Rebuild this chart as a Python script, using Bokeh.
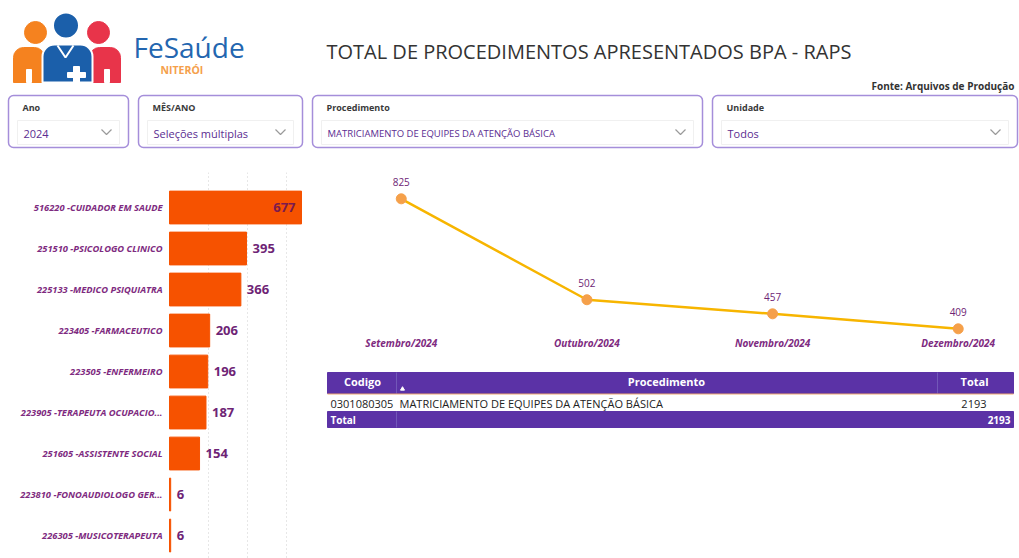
from bokeh.plotting import figure
from bokeh.layouts import column, row
from bokeh.models import Range1d, FixedTicker, Grid, ColumnDataSource
from bokeh.core.properties import value
from bokeh.embed import file_html
from bokeh.resources import INLINE

# ---------------- data ----------------
occupations = [
    "516220 -CUIDADOR EM SAUDE",
    "251510 -PSICOLOGO CLINICO",
    "225133 -MEDICO PSIQUIATRA",
    "223405 -FARMACEUTICO",
    "223505 -ENFERMEIRO",
    "223905 -TERAPEUTA OCUPACIO...",
    "251605 -ASSISTENTE SOCIAL",
    "223810 -FONOAUDIOLOGO GER...",
    "226305 -MUSICOTERAPEUTA",
]
occ_values = [677, 395, 366, 206, 196, 187, 154, 6, 6]

months = ["Setembro/2024", "Outubro/2024", "Novembro/2024", "Dezembro/2024"]
month_values = [825, 502, 457, 409]

table_codes = ["0301080305"]
table_procs = ["MATRICIAMENTO DE EQUIPES DA ATENÇÃO BÁSICA"]
table_totals = [2193]

filter_titles = ["Ano", "MÊS/ANO", "Procedimento", "Unidade"]
filter_values = ["2024", "Seleções múltiplas",
                 "MATRICIAMENTO DE EQUIPES DA ATENÇÃO BÁSICA", "Todos"]

title_text = "TOTAL DE PROCEDIMENTOS APRESENTADOS BPA - RAPS"
source_text = "Fonte:  Arquivos de Produção"

# ---------------- styles ----------------
FONT = value("Open Sans")
BAR_COLOR = "#F65200"
LABEL_PURPLE = "#7E2A80"
VALUE_PURPLE = "#6E2475"
INSIDE_LABEL = "#7A1A4E"
LINE_COLOR = "#F7B500"
MARKER_COLOR = "#F5A04A"
TABLE_PURPLE = "#5B32A6"
BOX_BORDER = "#A58EDA"
FILTER_TXT = "#5B2D91"


def blank(width, height, xr, yr, **kw):
    opts = dict(width=width, height=height, x_range=xr, y_range=yr,
                output_backend="svg", toolbar_location=None,
                x_axis_location=None, y_axis_location=None,
                min_border=0, outline_line_color=None,
                background_fill_color="white", border_fill_color="white")
    opts.update(kw)
    p = figure(**opts)
    p.grid.visible = False
    return p


# ---------------- header ----------------
header = blank(1019, 160, Range1d(0, 1019), Range1d(160, 0))

# logo
header.quad(left=[13], right=[44], top=[47], bottom=[82], color="#F5821F",
            border_radius=(10, 10, 0, 0))
header.quad(left=[26], right=[31], top=[69], bottom=[82], color="white")
header.circle(x=[35], y=[32], radius=11, color="#F5821F")
header.quad(left=[89], right=[120], top=[47], bottom=[82], color="#E8344A",
            border_radius=(10, 10, 0, 0))
header.quad(left=[104], right=[109], top=[69], bottom=[82], color="white")
header.circle(x=[98], y=[32], radius=11, color="#E8344A")
header.quad(left=[42], right=[92], top=[44], bottom=[82], fill_color="#1B5FAA",
            line_color="white", line_width=2, border_radius=(12, 12, 0, 0))
header.circle(x=[65.5], y=[25], radius=13, fill_color="#1B5FAA",
              line_color="white", line_width=2)
header.multi_line(xs=[[57, 65, 73]], ys=[[45, 57, 45]], line_color="white",
                  line_width=2)
header.quad(left=[67, 73], right=[85, 79], top=[72, 66], bottom=[77, 83],
            color="white")
header.text(x=[133], y=[46], text=["FeSaúde"], text_font=FONT,
            text_font_size="28px", text_color="#2366B0",
            text_baseline="middle")
header.text(x=[160], y=[69], text=["NITERÓI"], text_font=FONT,
            text_font_size="10.5px", text_font_style="bold",
            text_color="#F5A04B", text_baseline="middle")

# title and source
header.text(x=[326], y=[51], text=[title_text], text_font=FONT,
            text_font_size="20px", text_color="#333333",
            text_baseline="middle")
header.text(x=[871], y=[85], text=[source_text], text_font=FONT,
            text_font_size="10px", text_font_style="bold",
            text_color="#333333", text_baseline="middle")

# filter boxes
box_left = [8, 138, 312, 712]
box_right = [128, 302, 702, 1017]
val_sizes = ["11px", "11px", "9.5px", "11px"]
header.quad(left=box_left, right=box_right, top=[95] * 4, bottom=[147] * 4,
            fill_color="white", line_color=BOX_BORDER, line_width=1.5,
            border_radius=5)
header.quad(left=[b + 9 for b in box_left], right=[b - 9 for b in box_right],
            top=[120] * 4, bottom=[144] * 4, fill_color="white",
            line_color="#F0F0F0", line_width=1)
header.text(x=[b + 14 for b in box_left], y=[107] * 4, text=filter_titles,
            text_font=FONT, text_font_size="9px", text_font_style="bold",
            text_color="#3a3a3a", text_baseline="middle")
for i in range(4):
    header.text(x=[box_left[i] + 15], y=[133], text=[filter_values[i]],
                text_font=FONT, text_font_size=val_sizes[i],
                text_color=FILTER_TXT, text_baseline="middle")
chev = [b - 22 for b in box_right]
header.multi_line(xs=[[c - 5, c, c + 5] for c in chev],
                  ys=[[129, 134, 129] for _ in chev],
                  line_color="#9a9a9a", line_width=1.2)

# ---------------- bar chart ----------------
n = len(occupations)
ys = list(range(n))
bar = blank(320, 398, Range1d(-866.8, 774.4), Range1d(8.56, -0.854),
            min_border_top=12)
bar.add_layout(Grid(dimension=0, ticker=FixedTicker(ticks=[200, 400, 600]),
                    grid_line_color="#cfcfcf", grid_line_dash="1 3",
                    grid_line_width=1))
bsrc = ColumnDataSource(dict(y=ys, v=occ_values, cat=occupations))
bar.hbar(y="y", left=0, right="v", height=0.8, color=BAR_COLOR, source=bsrc)
bar.text(x=0, y="y", text="cat", source=bsrc, x_offset=-7, text_align="right",
         text_baseline="middle", text_font=FONT, text_font_size="9.3px",
         text_font_style="bold italic", text_color=LABEL_PURPLE)
vmax = max(occ_values)
inside = [i for i, v in enumerate(occ_values) if v >= 0.9 * vmax]
outside = [i for i, v in enumerate(occ_values) if v < 0.9 * vmax]
bar.text(x=[occ_values[i] for i in inside], y=[ys[i] for i in inside],
         text=[str(occ_values[i]) for i in inside], x_offset=-6,
         text_align="right", text_baseline="middle", text_font=FONT,
         text_font_size="13px", text_font_style="bold",
         text_color=INSIDE_LABEL)
bar.text(x=[occ_values[i] for i in outside], y=[ys[i] for i in outside],
         text=[str(occ_values[i]) for i in outside], x_offset=6,
         text_align="left", text_baseline="middle", text_font=FONT,
         text_font_size="13px", text_font_style="bold",
         text_color=VALUE_PURPLE)

# ---------------- line chart ----------------
xs = list(range(len(months)))
line = figure(width=699, height=205, x_range=Range1d(-0.435, 3.330),
              y_range=Range1d(387.6, 947.6), output_backend="svg",
              toolbar_location=None, x_axis_location="below",
              y_axis_location=None, min_border=0, min_border_bottom=30,
              outline_line_color=None, background_fill_color="white",
              border_fill_color="white")
line.grid.visible = False
ax = line.xaxis[0]
ax.ticker = FixedTicker(ticks=xs)
ax.major_label_overrides = {i: m for i, m in zip(xs, months)}
ax.axis_line_color = None
ax.major_tick_line_color = None
ax.minor_tick_line_color = None
ax.major_tick_out = 0
ax.major_tick_in = 0
ax.major_label_standoff = 0
ax.major_label_text_font = "Open Sans"
ax.major_label_text_font_size = "10px"
ax.major_label_text_font_style = "bold italic"
ax.major_label_text_color = LABEL_PURPLE
lsrc = ColumnDataSource(dict(x=xs, v=month_values,
                             t=[str(v) for v in month_values]))
line.line(x="x", y="v", source=lsrc, line_color=LINE_COLOR, line_width=2.5)
line.scatter(x="x", y="v", source=lsrc, size=10, color=MARKER_COLOR)
line.text(x="x", y="v", text="t", source=lsrc, y_offset=-17,
          text_align="center", text_baseline="middle", text_font=FONT,
          text_font_size="10px", text_color=VALUE_PURPLE)

# ---------------- table ----------------
tab = blank(699, 193, Range1d(320, 1019), Range1d(558, 365))
tab.quad(left=[327, 327], right=[1013, 1013], top=[372, 411],
         bottom=[393, 427], color=TABLE_PURPLE)
tab.segment(x0=[396, 937, 396], y0=[372, 372, 411], x1=[396, 937, 396],
            y1=[393, 393, 427], line_color="#7257B8", line_width=1)
tab.segment(x0=[327], y0=[393.5], x1=[1013], y1=[393.5],
            line_color="#F0A870", line_width=1)
tab.text(x=[362, 666], y=[381, 381], text=["Codigo", "Procedimento"],
         text_align="center", text_baseline="middle", text_font=FONT,
         text_font_size="11px", text_font_style="bold", text_color="white")
tab.text(x=[988], y=[381], text=["Total"], text_align="right",
         text_baseline="middle", text_font=FONT, text_font_size="11px",
         text_font_style="bold", text_color="white")
tab.scatter(x=[402], y=[388.5], marker="triangle", size=4, color="white")
tab.text(x=[330], y=[403], text=table_codes, text_baseline="middle",
         text_font=FONT, text_font_size="11px", text_color="#222222")
tab.text(x=[399], y=[403], text=table_procs, text_baseline="middle",
         text_font=FONT, text_font_size="11px", text_color="#222222")
tab.text(x=[986], y=[403], text=[str(t) for t in table_totals],
         text_align="right", text_baseline="middle", text_font=FONT,
         text_font_size="11px", text_color="#222222")
tab.text(x=[330], y=[419], text=["Total"], text_baseline="middle",
         text_font=FONT, text_font_size="10px", text_font_style="bold",
         text_color="white")
tab.text(x=[1010], y=[419], text=[str(sum(table_totals))], text_align="right",
         text_baseline="middle", text_font=FONT, text_font_size="10px",
         text_font_style="bold", text_color="white")

layout = column(header, row(bar, column(line, tab)))
open("out.html", "w").write(file_html(layout, INLINE))
